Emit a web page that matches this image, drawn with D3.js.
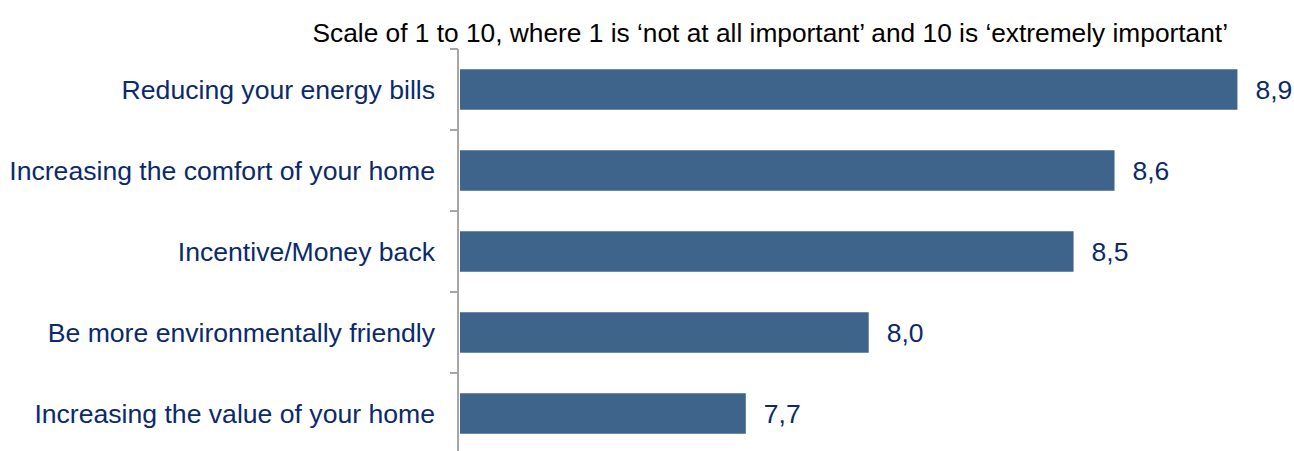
<!DOCTYPE html>
<html>
<head>
<meta charset="utf-8">
<script src="https://cdn.jsdelivr.net/npm/d3@7"></script>
<style>
  body { margin: 0; background: #fff; }
  text { font-family: "Liberation Sans", Arial, sans-serif; }
</style>
</head>
<body>
<script>
// chart data
const categories = [
    "Reducing your energy bills",
    "Increasing the comfort of your home",
    "Incentive/Money back",
    "Be more environmentally friendly",
    "Increasing the value of your home"
];
const values = [8.9, 8.6, 8.5, 8.0, 7.7];
const title = "Scale of 1 to 10, where 1 is \u2018not at all important\u2019 and 10 is \u2018extremely important\u2019";

const width = 1294;
const height = 451;

let svg = d3.select("body")
    .append("svg")
    .attr("width", width)
    .attr("height", height);

// scales
const x = d3.scaleLinear()
    .domain([7, 9])
    .range([459, 1278.4]);

const y = d3.scaleBand()
    .domain(categories)
    .range([49, 454])
    .paddingInner(0.5)
    .paddingOuter(0.25);

// title
svg.append("text")
    .attr("x", 1228)
    .attr("y", 42)
    .attr("text-anchor", "end")
    .style("font-size", "26.3px")
    .style("fill", "#000")
    .text(title);

// bars
svg.selectAll("rect.bar")
    .data(values)
    .enter()
    .append("rect")
    .attr("class", "bar")
    .attr("x", x(7) + 1)
    .attr("y", (d, i) => y(categories[i]))
    .attr("width", d => x(d) - x(7) - 1)
    .attr("height", y.bandwidth())
    .attr("fill", "#3f648c");

// value labels
svg.selectAll("text.val")
    .data(values)
    .enter()
    .append("text")
    .attr("class", "val")
    .attr("x", d => x(d) + 18)
    .attr("y", (d, i) => y(categories[i]) + y.bandwidth() / 2)
    .attr("dy", "0.36em")
    .style("font-size", "26.5px")
    .style("fill", "#0b2a6b")
    .text(d => d3.format(".1f")(d).replace(".", ","));

// category axis
const step = y.step();
const axis = svg.append("g");
axis.append("line")
    .attr("x1", 458).attr("x2", 458)
    .attr("y1", 49).attr("y2", height)
    .attr("stroke", "#a6a6a6")
    .attr("stroke-width", 2);
axis.selectAll("line.tick")
    .data(d3.range(categories.length + 1))
    .enter()
    .append("line")
    .attr("class", "tick")
    .attr("x1", 450).attr("x2", 458)
    .attr("y1", i => 49 + i * step)
    .attr("y2", i => 49 + i * step)
    .attr("stroke", "#a6a6a6")
    .attr("stroke-width", 2);

axis.selectAll("text.cat")
    .data(categories)
    .enter()
    .append("text")
    .attr("class", "cat")
    .attr("x", 435)
    .attr("y", d => y(d) + y.bandwidth() / 2)
    .attr("dy", "0.36em")
    .attr("text-anchor", "end")
    .style("font-size", "26.6px")
    .style("fill", "#0b2a6b")
    .text(d => d);
</script>
</body>
</html>
